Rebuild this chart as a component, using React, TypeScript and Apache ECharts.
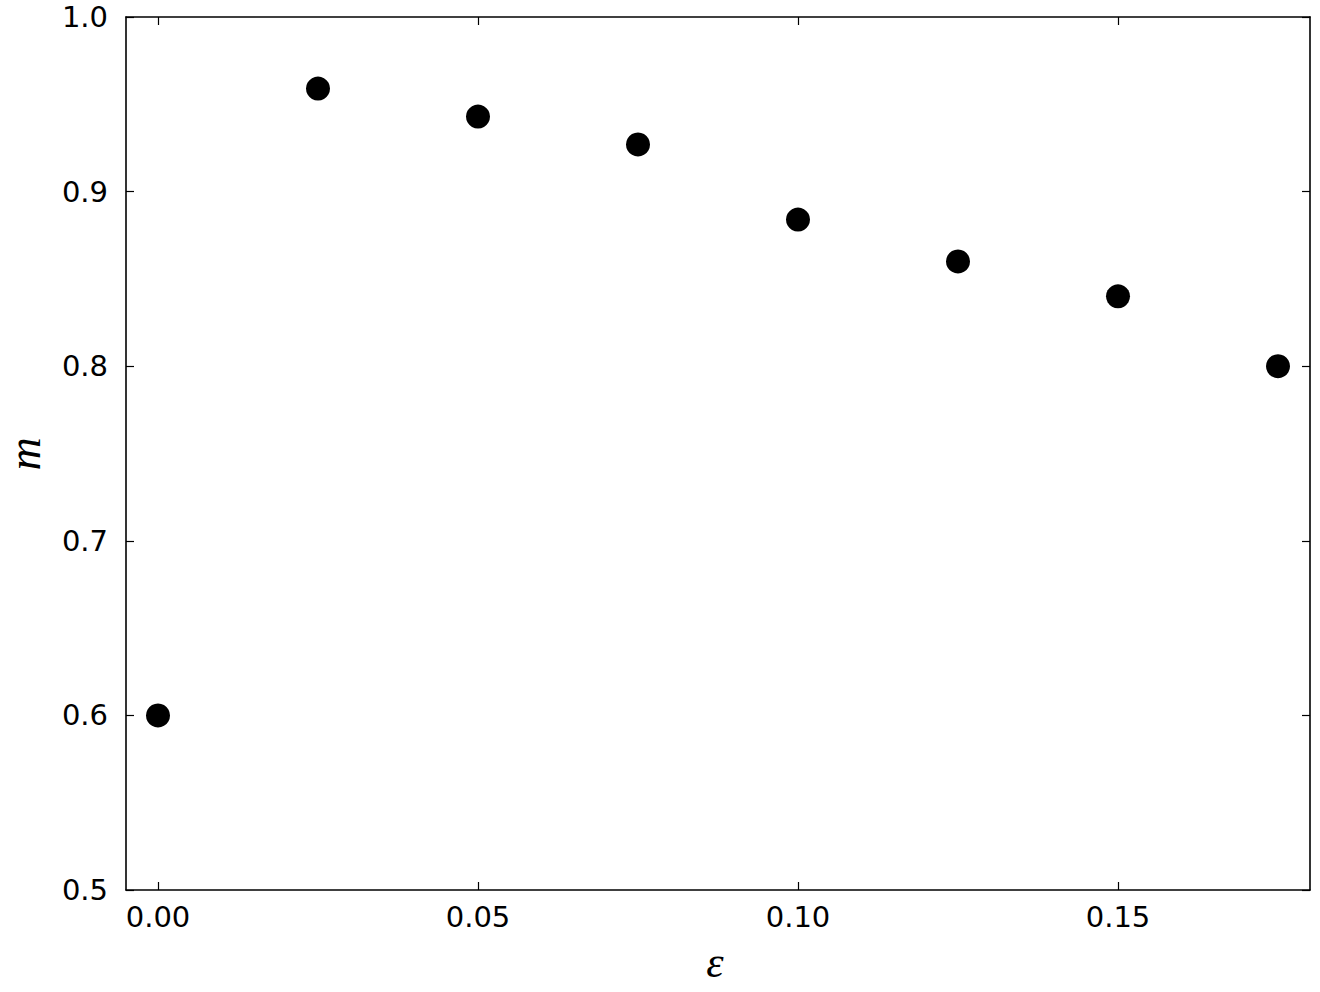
import React, { useEffect, useRef } from "react";
import * as echarts from "echarts";

const epsValues = [0, 0.025, 0.05, 0.075, 0.1, 0.125, 0.15, 0.175];
const mValues = [0.6, 0.959, 0.943, 0.927, 0.884, 0.86, 0.84, 0.8];
const xTicks = [0, 0.05, 0.1, 0.15];
const xLabel = "ε";
const yLabel = "m";

export default function App() {
  const ref = useRef<HTMLDivElement>(null);
  useEffect(() => {
    document.body.style.margin = "0";
    if (!ref.current) return;
    const chart = echarts.init(ref.current, null, { renderer: "svg" });
    const lineStyle = { color: "#000", width: 1.6 };
    const tickStyle = { color: "#000", width: 1.2 };
    const labelFont = { fontFamily: "DejaVu Sans", fontSize: 29, color: "#000" };
    const xBase = {
      type: "value" as const,
      min: -0.005,
      max: 0.18,
      splitLine: { show: false },
      axisLine: { show: true, onZero: false, lineStyle },
    };
    const yBase = {
      type: "value" as const,
      min: 0.5,
      max: 1.0,
      interval: 0.1,
      splitLine: { show: false },
      axisLine: { show: true, onZero: false, lineStyle },
    };
    chart.setOption({
      animation: false,
      backgroundColor: "#fff",
      grid: { left: 126, right: 10, top: 17, bottom: 102 },
      xAxis: [
        {
          ...xBase,
          position: "bottom",
          axisTick: { show: true, inside: true, length: 8, lineStyle: tickStyle, customValues: xTicks },
          axisLabel: {
            ...labelFont,
            margin: 12,
            customValues: xTicks,
            formatter: (v: number) => v.toFixed(2),
          },
        },
        {
          ...xBase,
          position: "top",
          axisTick: { show: true, inside: true, length: 8, lineStyle: tickStyle, customValues: xTicks },
          axisLabel: { show: false },
        },
      ],
      yAxis: [
        {
          ...yBase,
          position: "left",
          axisTick: { show: true, inside: true, length: 8, lineStyle: tickStyle },
          axisLabel: {
            ...labelFont,
            margin: 18,
            formatter: (v: number) => v.toFixed(1),
          },
        },
        {
          ...yBase,
          position: "right",
          axisTick: { show: true, inside: true, length: 8, lineStyle: tickStyle },
          axisLabel: { show: false },
        },
      ],
      graphic: [
        {
          type: "text",
          x: 715,
          y: 962,
          style: {
            text: xLabel,
            font: "italic 44px 'Liberation Serif'",
            fill: "#000",
            align: "center",
            verticalAlign: "middle",
          },
        },
        {
          type: "text",
          x: 24,
          y: 454,
          rotation: Math.PI / 2,
          style: {
            text: yLabel,
            font: "italic 46px 'Liberation Serif'",
            fill: "#000",
            align: "center",
            verticalAlign: "middle",
          },
        },
      ],
      series: [
        {
          type: "scatter",
          xAxisIndex: 0,
          yAxisIndex: 0,
          symbol: "circle",
          symbolSize: 24,
          itemStyle: { color: "#000", opacity: 1 },
          data: epsValues.map((x, i) => [x, mValues[i]]),
        },
      ],
    });
    return () => chart.dispose();
  }, []);
  return <div ref={ref} style={{ width: 1320, height: 992 }} />;
}
